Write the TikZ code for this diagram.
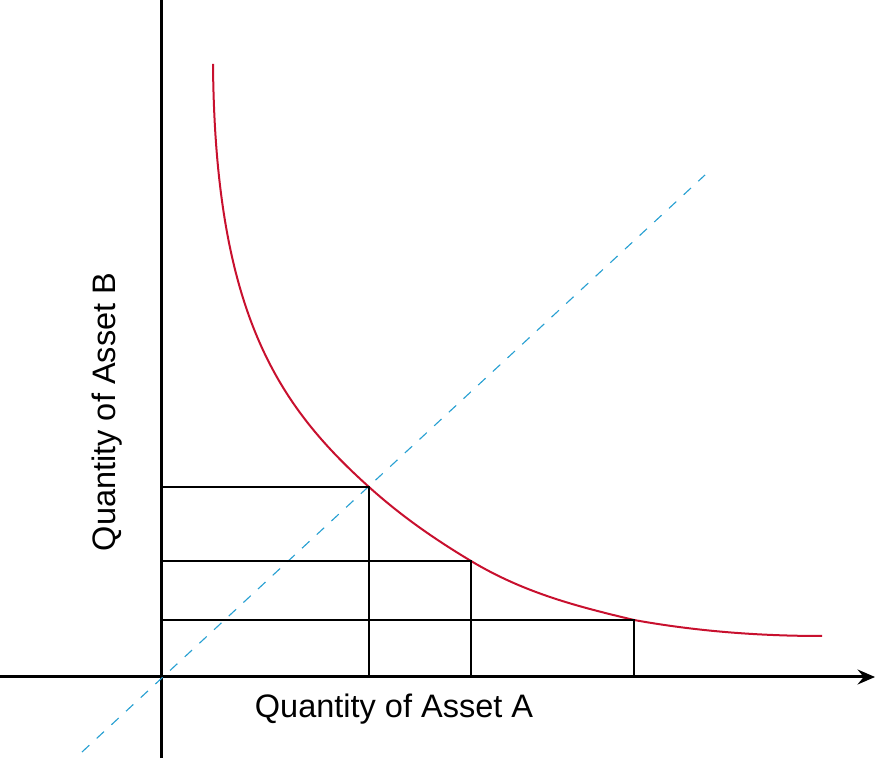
\documentclass[tikz,border=0pt]{standalone}
\usepackage{fontspec}
\setmainfont{Liberation Sans}
\usetikzlibrary{arrows.meta,positioning}
\definecolor{ink}{RGB}{0,0,0}
\definecolor{curve}{RGB}{200,16,46}
\definecolor{ray}{RGB}{40,160,210}
\tikzset{
  every picture/.style={color=ink, x=0.4pt, y=0.4pt, font=\fontsize{13}{15}\selectfont},
  axis/.style={line width=1.2pt},
  axisarrow/.style={axis, -{Stealth[length=7pt,width=6pt,inset=2.5pt]}},
  grid/.style={line width=0.8pt},
  bond/.style={line width=0.8pt, color=curve},
  diag/.style={line width=0.45pt, color=ray, dash pattern=on 4pt off 4pt},
  lbl/.style={inner sep=0pt},
}

\begin{document}
\begin{tikzpicture}
  \useasboundingbox (-161,-81) rectangle (716,677);
  % axes
  \coordinate (O) at (0,0);
  \coordinate (xl) at (-161,0);
  \coordinate (xr) at (714,0);
  \coordinate (yb) at (0,-81);
  \coordinate (yt) at (0,677);
  \draw[axis] (yb) -- (yt);
  \draw[axisarrow] (xl) -- (xr);
  % points on the curve
  \coordinate (P1) at (208,190);
  \coordinate (P2) at (310,116);
  \coordinate (P3) at (473,57);
  % diagonal through the origin
  \coordinate (d0) at (-79,-75);
  \coordinate (d1) at (544,502);
  \draw[diag] (d0) -- (d1);
  % reserve curve
  \coordinate (c0) at (52,613);
  \coordinate (c1) at (661,41);
  \draw[bond] (c0) .. controls (54,363) and (118,271) .. (P1)
                   .. controls (242,159.4) and (276,136.4) .. (P2)
                   .. controls (364.3,83.4) and (418.7,70) .. (P3)
                   .. controls (535.7,45.7) and (598,41) .. (c1);
  % boxes under the curve
  \foreach \p in {P1,P2,P3} {
    \draw[grid] (\p -| O) -- (\p) -- (\p |- O);
  }
  \node[lbl] (xlabel) at (233,-32) {Quantity of Asset A};
  \node[lbl, rotate=90] (ylabel) at (-54,265) {Quantity of Asset B};
\end{tikzpicture}
\end{document}
